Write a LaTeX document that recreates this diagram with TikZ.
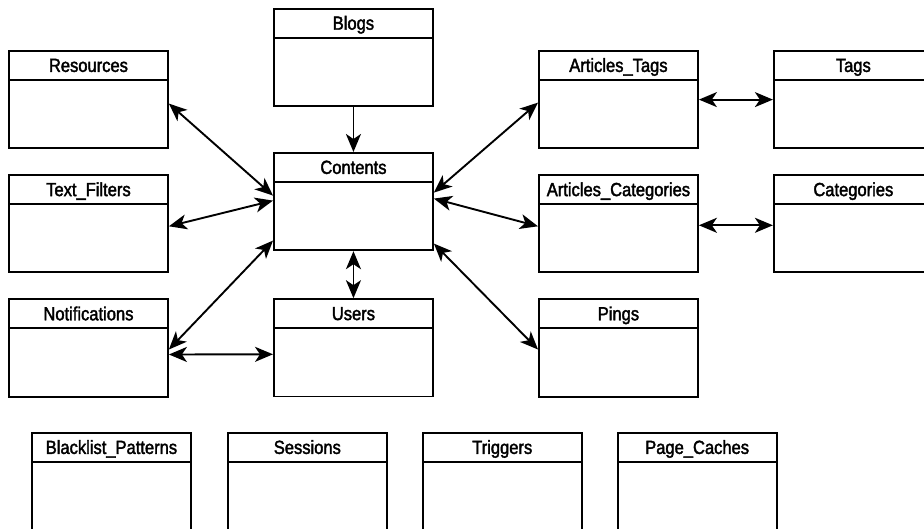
\documentclass[tikz,border=0pt]{standalone}
\usepackage{fontspec}
\setmainfont{Liberation Sans}[FakeStretch=0.87,FakeBold=2]
\usepackage{tikz}
\usetikzlibrary{arrows.meta,positioning,shapes.multipart}
\tikzset{
    tablebox/.style={
        draw,
        rectangle split,
        rectangle split parts=2,
        line width=1.9pt,
        text width=159pt,
        align=center,
        inner xsep=0pt,
        inner ysep=0pt,
        font=\fontsize{19}{21}\selectfont
    },
    relation/.style={
        {Stealth[length=18pt,width=15pt,inset=5pt]}-{Stealth[length=18pt,width=15pt,inset=5pt]},
        line width=1.9pt
    },
    reference/.style={
        -{Stealth[length=18pt,width=15pt,inset=5pt]},
        line width=1.9pt
    }
}
\newcommand{\tbltitle}[1]{\rule[-7pt]{0pt}{27pt}#1\nodepart{two}\rule{0pt}{66.5pt}}

\begin{document}
\begin{tikzpicture}[x=1pt,y=-1pt,node distance=25pt and 74pt]
        \useasboundingbox (0,0) rectangle (924,529);

        % center column
        \node[tablebox, anchor=north west] (contents) at (273,152) {\tbltitle{Contents}};
        \node[tablebox, above=45pt of contents] (blogs) {\tbltitle{Blogs}};
        \node[tablebox, below=47pt of contents] (users) {\tbltitle{Users}};

        % left column
        \node[tablebox, anchor=north west] (resources) at (8,50) {\tbltitle{Resources}};
        \node[tablebox, below=of resources] (textfilters) {\tbltitle{Text\_Filters}};
        \node[tablebox, below=of textfilters] (notifications) {\tbltitle{Notifications}};

        % right columns
        \node[tablebox, anchor=north west] (artags) at (538,50) {\tbltitle{Articles\_Tags}};
        \node[tablebox, below=of artags] (arcats) {\tbltitle{Articles\_Categories}};
        \node[tablebox, below=of arcats] (pings) {\tbltitle{Pings}};
        \node[tablebox, right=of artags] (tags) {\tbltitle{Tags}};
        \node[tablebox, right=of arcats] (categories) {\tbltitle{Categories}};

        % bottom row
        \node[tablebox, anchor=north west] (blacklist) at (31,432) {\tbltitle{Blacklist\_Patterns}};
        \node[tablebox, right=35pt of blacklist] (sessions) {\tbltitle{Sessions}};
        \node[tablebox, right=34pt of sessions] (triggers) {\tbltitle{Triggers}};
        \node[tablebox, right=34pt of triggers] (pagecaches) {\tbltitle{Page\_Caches}};

        \draw[reference] (blogs.south) -- (contents.north);
        \draw[relation] (contents.south) -- (users.north);
        \draw[relation] ([yshift=-4pt]resources.east) -- ([yshift=6pt]contents.west);
        \draw[relation] ([yshift=-2.5pt]textfilters.east) -- ([yshift=1pt]contents.west);
        \draw[relation] ([yshift=-1.5pt]notifications.east) -- ([yshift=-39pt]contents.west);
        \draw[relation] ([yshift=-6.5pt]notifications.east) -- ([yshift=-6.5pt]users.west);
        \draw[relation] ([yshift=9pt]contents.east) -- ([yshift=-3pt]artags.west);
        \draw[relation] ([yshift=3pt]contents.east) -- ([yshift=-2.5pt]arcats.west);
        \draw[relation] ([yshift=-42pt]contents.east) -- ([yshift=-1.5pt]pings.west);
        \draw[relation] (artags.east) -- (tags.west);
        \draw[relation] ([yshift=-1.5pt]arcats.east) -- ([yshift=-1.5pt]categories.west);
    \end{tikzpicture}
\end{document}
